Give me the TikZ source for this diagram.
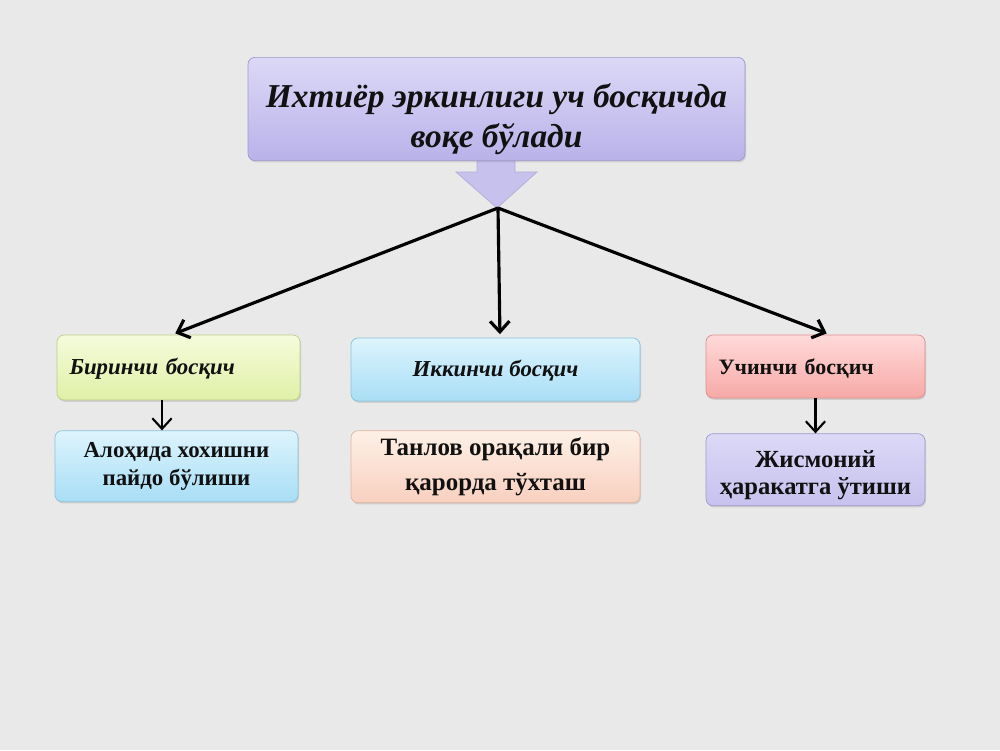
\documentclass[tikz,border=0pt]{standalone}
\usepackage{fontspec}
\setmainfont{Liberation Serif}
\usepackage{tikz}
\usetikzlibrary{arrows.meta, positioning, shadows}

\definecolor{paper}{HTML}{E9E9E9}
\definecolor{lilacTop}{HTML}{DCD8F6}
\definecolor{lilacBot}{HTML}{B9B2EA}
\definecolor{lilacLine}{HTML}{9E99CC}
\definecolor{limeTop}{HTML}{F5FBDC}
\definecolor{limeBot}{HTML}{E0F0A6}
\definecolor{limeLine}{HTML}{B9CF86}
\definecolor{skyTop}{HTML}{DDF4FD}
\definecolor{skyBot}{HTML}{A8DEF6}
\definecolor{skyLine}{HTML}{8CC3DA}
\definecolor{roseTop}{HTML}{FFDADA}
\definecolor{roseBot}{HTML}{F6A9A6}
\definecolor{roseLine}{HTML}{DB8F8C}
\definecolor{peachTop}{HTML}{FDF0E6}
\definecolor{peachBot}{HTML}{F8D0C0}
\definecolor{peachLine}{HTML}{E0B4A0}
\definecolor{inkdark}{HTML}{111111}

\begin{document}
\begin{tikzpicture}[
  >={Straight Barb[length=6pt,width=11pt]},
  panel/.style={rounded corners=4pt, inner xsep=0.25cm, text=inkdark,
    drop shadow={opacity=0.25, shadow xshift=0.6pt, shadow yshift=-1pt}},
  stagehead/.style={panel, font=\fontsize{13}{16}\selectfont\bfseries},
  stagetext/.style={panel, align=center, font=\fontsize{13}{16}\selectfont\bfseries},
  arr/.style={->, line width=1.8pt, black, shorten >=2pt},
  subarr/.style={->, line width=1.2pt, black},
]

\fill[paper] (0,0) rectangle (20,-15);
\useasboundingbox (0,0) rectangle (20,-15);

% block arrow under the title
\filldraw[fill=lilacBot!80!white, draw=lilacLine!80!white]
  (9.54,-3.05) -- (10.30,-3.05) -- (10.30,-3.44) -- (10.74,-3.44) -- (9.94,-4.16)
  -- (9.12,-3.44) -- (9.54,-3.44) -- cycle;

\node[panel, draw=lilacLine, top color=lilacTop, bottom color=lilacBot,
  minimum width=9.94cm, minimum height=1.96cm, align=center,
  font=\fontsize{19}{23}\selectfont\bfseries\itshape] (title) at (9.93,-2.18)
  {\rule{0pt}{25pt}Ихтиёр эркинлиги уч босқичда\\воқе бўлади};

\coordinate (fork) at (9.96,-4.16);

% three stages
\node[stagehead, draw=limeLine, top color=limeTop, bottom color=limeBot,
  minimum width=4.86cm, minimum height=1.3cm, text width=4.36cm, align=left,
  font=\fontsize{13}{16}\selectfont\bfseries\itshape] (b1) at (3.57,-7.35) {\rule{0pt}{11pt}Биринчи босқич};
\node[stagehead, draw=skyLine, top color=skyTop, bottom color=skyBot,
  minimum width=5.78cm, minimum height=1.26cm, align=center,
  font=\fontsize{13}{16}\selectfont\bfseries\itshape] (b2) at (9.91,-7.39) {\rule{0pt}{11pt}Иккинчи босқич};
\node[stagehead, draw=roseLine, top color=roseTop, bottom color=roseBot,
  minimum width=4.38cm, minimum height=1.26cm, text width=3.88cm, align=left,
  font=\fontsize{12.5}{16}\selectfont\bfseries] (b3) at (16.31,-7.33) {\rule{0pt}{11pt}Учинчи босқич};

\node[stagetext, draw=skyLine, top color=skyTop, bottom color=skyBot,
  minimum width=4.86cm, minimum height=1.42cm, below=0.6cm of b1, xshift=-0.04cm] (s1)
  {Алоҳида хохишни\\пайдо бўлиши};
\node[stagetext, draw=peachLine, top color=peachTop, bottom color=peachBot,
  minimum width=5.78cm, minimum height=1.44cm, below=0.58cm of b2,
  font=\fontsize{14.2}{20}\selectfont\bfseries] (s2)
  {Танлов орақали бир\\қарорда тўхташ};
\node[stagetext, draw=lilacLine, top color=lilacTop, bottom color=lilacBot!80!white,
  minimum width=4.38cm, minimum height=1.44cm, below=0.7cm of b3,
  font=\fontsize{14}{15}\selectfont\bfseries] (s3)
  {\rule{0pt}{16pt}Жисмоний\\ҳаракатга ўтиши};

\draw[arr] (fork) -- ([xshift=-0.13cm]b1.north);
\draw[arr] (fork) -- ([xshift=0.09cm]b2.north);
\draw[arr] (fork) -- ([xshift=0.29cm]b3.north);

\draw[subarr] ([xshift=-0.33cm]b1.south) -- ([xshift=-0.33cm]b1.south |- s1.north);
\draw[subarr] (b3.south) -- (b3.south |- s3.north);

\end{tikzpicture}
\end{document}
